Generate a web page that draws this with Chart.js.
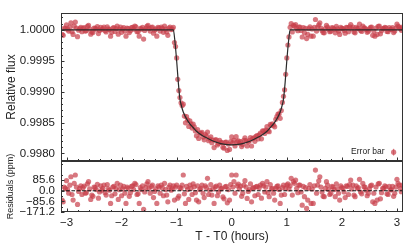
<!DOCTYPE html>
<html>
<head>
<meta charset="utf-8">
<script src="https://cdn.jsdelivr.net/npm/chart.js@4"></script>
<style>
  html, body { margin: 0; padding: 0; background: #fff; }
  #wrap { position: relative; width: 407px; height: 249px; }
  canvas { position: absolute; left: 0; top: 0; }
</style>
</head>
<body>
<div id="wrap">
  <canvas id="fluxChart" width="407" height="249"></canvas>
  <canvas id="residChart" width="407" height="249"></canvas>
</div>
<script>
// --- data (two interleaved sets of exposures) ---
const timesA = [
  -3.08, -3.04, -3.00, -2.96, -2.92, -2.88, -2.84, -2.80, -2.76, -2.72,
  -2.68, -2.64, -2.60, -2.56, -2.52, -2.48, -2.44, -2.40, -2.36, -2.32,
  -2.28, -2.24, -2.20, -2.16, -2.12, -2.08, -2.04, -2.00, -1.96, -1.92,
  -1.88, -1.84, -1.80, -1.76, -1.72, -1.68, -1.64, -1.60, -1.56, -1.52,
  -1.48, -1.44, -1.40, -1.36, -1.32, -1.28, -1.24, -1.20, -1.16, -1.12,
  -1.08, -1.04, -1.00, -0.96, -0.92, -0.88, -0.84, -0.80, -0.76, -0.72,
  -0.68, -0.64, -0.60, -0.56, -0.52, -0.48, -0.44, -0.40, -0.36, -0.32,
  -0.28, -0.24, -0.20, -0.16, -0.12, -0.08, -0.04, 0.00, 0.04, 0.08,
  0.12, 0.16, 0.20, 0.24, 0.28, 0.32, 0.36, 0.40, 0.44, 0.48,
  0.52, 0.56, 0.60, 0.64, 0.68, 0.72, 0.76, 0.80, 0.84, 0.88,
  0.92, 0.96, 1.00, 1.04, 1.08, 1.12, 1.16, 1.20, 1.24, 1.28,
  1.32, 1.36, 1.40, 1.44, 1.48, 1.52, 1.56, 1.60, 1.64, 1.68,
  1.72, 1.76, 1.80, 1.84, 1.88, 1.92, 1.96, 2.00, 2.04, 2.08,
  2.12, 2.16, 2.20, 2.24, 2.28, 2.32, 2.36, 2.40, 2.44, 2.48,
  2.52, 2.56, 2.60, 2.64, 2.68, 2.72, 2.76, 2.80, 2.84, 2.88,
  2.92, 2.96, 3.00, 3.04, 3.08
];

const fluxA = [
  0.999925, 1.000030, 1.000081, 0.999980, 1.000113, 0.999925, 1.000127, 0.999890, 1.000019, 0.999970,
  1.000038, 0.999985, 1.000073, 0.999930, 0.999955, 1.000025, 1.000052, 0.999990, 1.000005, 1.000046,
  0.999965, 1.000015, 0.999898, 1.000030, 0.999975, 1.000060, 1.000008, 0.999960, 1.000035, 0.999898,
  1.000020, 0.999985, 1.000040, 1.000060, 0.999970, 0.999898, 1.000010, 0.999850, 1.000025, 1.000073,
  0.999980, 1.000046, 0.999995, 0.999898, 1.000030, 1.000046, 0.999960, 1.000010, 0.999911, 1.000046,
  1.000015, 0.999795, 0.999546, 0.999017, 0.998820, 0.998797, 0.998495, 0.998543, 0.998526, 0.998410,
  0.998432, 0.998285, 0.998244, 0.998327, 0.998265, 0.998305, 0.998346, 0.998234, 0.998175, 0.998095,
  0.998221, 0.998162, 0.998178, 0.998102, 0.998180, 0.998048, 0.998065, 0.998267, 0.998213, 0.998272,
  0.998202, 0.998190, 0.998143, 0.998253, 0.998121, 0.998207, 0.998121, 0.998253, 0.998278, 0.998235,
  0.998331, 0.998367, 0.998323, 0.998433, 0.998352, 0.998455, 0.998460, 0.998552, 0.998637, 0.998568,
  0.998825, 0.999030, 0.999546, 0.999885, 1.000100, 1.000073, 1.000086, 0.999985, 1.000046, 0.999884,
  0.999952, 0.999858, 1.000020, 0.999898, 0.999898, 1.000167, 1.000046, 1.000113, 0.999990, 0.999952,
  1.000073, 1.000010, 0.999979, 1.000030, 0.999952, 1.000015, 0.999925, 1.000025, 0.999990, 1.000040,
  0.999970, 1.000086, 1.000046, 0.999952, 1.000020, 1.000092, 0.999975, 1.000032, 1.000005, 0.999979,
  1.000040, 0.999911, 0.999898, 0.999925, 1.000060, 0.999985, 1.000020, 1.000032, 0.999970, 1.000006,
  1.000035, 0.999980, 1.000092, 1.000046, 0.999992
];

// residuals in ppm
const residA = [
  -75, 30, 81, -20, 113, -75, 127, -110, 19, -30,
  38, -15, 73, -70, -45, 25, 52, -10, 5, 46,
  -35, 15, -102, 30, -25, 60, 8, -40, 35, -102,
  20, -15, 40, 60, -30, -102, 10, -150, 25, 73,
  -20, 46, -5, -102, 30, 46, -40, 10, -89, 46,
  15, -75, 46, -43, 20, 127, -102, 10, 46, -30,
  32, -75, -89, 20, -20, 40, 100, 6, -35, -102,
  38, -10, 15, -50, 32, -97, -75, 127, 73, 127,
  54, 38, -20, 81, -62, 10, -89, 25, 32, -30,
  46, 60, -10, 73, -48, 15, -20, 19, 40, -102,
  25, -30, 46, 15, 100, 73, 86, -15, 46, -116,
  -48, -142, 20, -102, -102, 167, 46, 113, -10, -48,
  73, 10, -21, 30, -48, 15, -75, 25, -10, 40,
  -30, 86, 46, -48, 20, 92, -25, 32, 5, -21,
  40, -89, -102, -75, 60, -15, 20, 32, -30, 6,
  35, -20, 92, 46, -8
];

const timesB = [
  -3.06, -3.02, -2.98, -2.94, -2.90, -2.86, -2.82, -2.78, -2.74, -2.70,
  -2.66, -2.62, -2.58, -2.54, -2.50, -2.46, -2.42, -2.38, -2.34, -2.30,
  -2.26, -2.22, -2.18, -2.14, -2.10, -2.06, -2.02, -1.98, -1.94, -1.90,
  -1.86, -1.82, -1.78, -1.74, -1.70, -1.66, -1.62, -1.58, -1.54, -1.50,
  -1.46, -1.42, -1.38, -1.34, -1.30, -1.26, -1.22, -1.18, -1.14, -1.10,
  -1.06, -1.02, -0.98, -0.94, -0.90, -0.86, -0.82, -0.78, -0.74, -0.70,
  -0.66, -0.62, -0.58, -0.54, -0.50, -0.46, -0.42, -0.38, -0.34, -0.30,
  -0.26, -0.22, -0.18, -0.14, -0.10, -0.06, -0.02, 0.02, 0.06, 0.10,
  0.14, 0.18, 0.22, 0.26, 0.30, 0.34, 0.38, 0.42, 0.46, 0.50,
  0.54, 0.58, 0.62, 0.66, 0.70, 0.74, 0.78, 0.82, 0.86, 0.90,
  0.94, 0.98, 1.02, 1.06, 1.10, 1.14, 1.18, 1.22, 1.26, 1.30,
  1.34, 1.38, 1.42, 1.46, 1.50, 1.54, 1.58, 1.62, 1.66, 1.70,
  1.74, 1.78, 1.82, 1.86, 1.90, 1.94, 1.98, 2.02, 2.06, 2.10,
  2.14, 2.18, 2.22, 2.26, 2.30, 2.34, 2.38, 2.42, 2.46, 2.50,
  2.54, 2.58, 2.62, 2.66, 2.70, 2.74, 2.78, 2.82, 2.86, 2.90,
  2.94, 2.98, 3.02, 3.06, 3.10
];

const fluxB = [
  0.999911, 1.000019, 1.000010, 1.000045, 0.999970, 1.000060, 1.000030, 0.999995, 1.000040, 1.000025,
  0.999980, 1.000055, 1.000015, 0.999965, 1.000030, 1.000010, 0.999940, 1.000040, 1.000020, 0.999985,
  1.000050, 1.000005, 0.999960, 1.000035, 1.000020, 0.999930, 1.000045, 1.000015, 0.999980, 1.000030,
  0.999955, 1.000035, 1.000010, 1.000050, 0.999975, 1.000025, 1.000040, 0.999990, 1.000055, 1.000020,
  1.000035, 0.999945, 1.000015, 1.000040, 0.999980, 1.000025, 1.000060, 0.999965, 1.000030, 1.000005,
  1.000040, 0.999730, 0.999200, 0.998905, 0.998775, 0.998605, 0.998595, 0.998436, 0.998480, 0.998475,
  0.998365, 0.998386, 0.998330, 0.998341, 0.998220, 0.998280, 0.998207, 0.998269, 0.998218, 0.998220,
  0.998137, 0.998212, 0.998177, 0.998085, 0.998182, 0.998152, 0.998190, 0.998170, 0.998122, 0.998187,
  0.998165, 0.998112, 0.998212, 0.998207, 0.998185, 0.998258, 0.998239, 0.998197, 0.998290, 0.998300,
  0.998236, 0.998360, 0.998376, 0.998365, 0.998470, 0.998480, 0.998431, 0.998595, 0.998640, 0.998695,
  0.998925, 0.999280, 0.999755, 1.000040, 0.999965, 1.000060, 1.000020, 1.000045, 0.999990, 1.000035,
  1.000025, 0.999925, 1.000050, 1.000015, 1.000040, 0.999980, 1.000080, 1.000030, 0.999955, 1.000020,
  1.000045, 0.999970, 1.000035, 1.000010, 1.000055, 0.999980, 1.000040, 1.000020, 0.999945, 1.000035,
  1.000050, 1.000015, 0.999965, 1.000040, 1.000025, 0.999990, 1.000060, 1.000030, 0.999960, 1.000015,
  1.000045, 0.999980, 1.000030, 1.000055, 0.999935, 1.000020, 1.000040, 0.999975, 1.000035, 1.000010,
  0.999955, 1.000030, 1.000060, 1.000020, 1.000045
];

const residB = [
  -89, 19, 10, 45, -30, 60, 30, -5, 40, 25,
  -20, 55, 15, -35, 30, 10, -60, 40, 20, -15,
  50, 5, -40, 35, 20, -70, 45, 15, -20, 30,
  -45, 35, 10, 50, -25, 25, 40, -10, 55, 20,
  35, -55, 15, 40, -20, 25, 60, -35, 30, 5,
  40, 30, -60, 25, 45, -25, 35, -70, 20, 55,
  -15, 40, 10, 45, -55, 25, -30, 50, 15, 30,
  -40, 45, 20, -65, 35, 10, 50, 30, -20, 40,
  15, -45, 45, 30, -5, 55, 20, -40, 35, 25,
  -60, 40, 30, -15, 50, 20, -75, 35, 10, -35,
  45, 20, 55, 40, -35, 60, 20, 45, -10, 35,
  25, -75, 50, 15, 40, -20, 80, 30, -45, 20,
  45, -30, 35, 10, 55, -20, 40, 20, -55, 35,
  50, 15, -35, 40, 25, -10, 60, 30, -40, 15,
  45, -20, 30, 55, -65, 20, 40, -25, 35, 10,
  -45, 30, 60, 20, 45
];

// transit model curve
const modelTimes = [
  -3.2, -1.06, -1.03, -1.00, -0.97, -0.94, -0.91, -0.88, -0.82, -0.76, -0.70, -0.64,
  -0.55, -0.45, -0.36, -0.27, -0.15, 0, 0.15, 0.27, 0.36, 0.45, 0.55,
  0.64, 0.70, 0.76, 0.82, 0.88, 0.91, 0.94, 0.97, 1.00, 1.03, 1.06, 3.2
];
const modelFlux = [
  1, 1, 0.9998, 0.9995, 0.99915, 0.99888, 0.99876, 0.99867, 0.99856, 0.99848, 0.99842, 0.99836,
  0.99830, 0.99825, 0.99821, 0.99818, 0.99815, 0.99814, 0.99815, 0.99818, 0.99821, 0.99825, 0.99830,
  0.99836, 0.99842, 0.99848, 0.99856, 0.99867, 0.99876, 0.99888, 0.99915, 0.9995, 0.9998, 1, 1
];

// typical error bar sample
const errSampleT = [2.94];
const errSampleFlux = [0.99802];
const errSampleSigma = [0.000055];

// axis ticks
const xTicks = [-3, -2, -1, 0, 1, 2, 3];
const fluxTicks = [0.9980, 0.9985, 0.9990, 0.9995, 1.0000];
const residTicks = [-171.2, -85.6, 0, 85.6];
const zeroLineT = [-3.2, 3.2];
const zeroLineR = [0, 0];

// --- helpers ---
const FONT = '"Liberation Sans", Arial, sans-serif';
const DOT = 'rgba(200, 62, 74, 0.7)';
const INK = '#333';

Chart.defaults.font.family = FONT;
Chart.defaults.color = '#222';

const minus = s => String(s).replace('-', '\u2212');
const toXY = (xs, ys) => xs.map((x, i) => ({ x: x, y: ys[i] }));

function range(from, to, step) {
  const out = [];
  for (let v = from; v <= to + step / 2; v += step) out.push(+v.toFixed(6));
  return out;
}

const X_MIN = -3.1, X_MAX = 3.11;
const xMinor = range(-3.0, 3.0, 0.2);

// frame + inward ticks (matplotlib look)
const axesFrame = {
  id: 'axesFrame',
  afterDatasetsDraw(chart, args, o) {
    const { ctx, chartArea: a, scales } = chart;
    ctx.save();
    ctx.strokeStyle = INK;
    ctx.lineWidth = 1;
    ctx.beginPath();
    const xt = (v, len) => {
      const p = Math.round(scales.x.getPixelForValue(v)) + 0.5;
      ctx.moveTo(p, a.bottom); ctx.lineTo(p, a.bottom - len);
    };
    const yt = (v, len) => {
      const p = Math.round(scales.y.getPixelForValue(v)) + 0.5;
      if (p < a.top || p > a.bottom + 1) return;
      ctx.moveTo(a.left, p); ctx.lineTo(a.left + len, p);
    };
    xMinor.forEach(v => xt(v, 2));
    xTicks.forEach(v => xt(v, 3.5));
    o.yMinor.forEach(v => yt(v, 2));
    o.yMajor.forEach(v => yt(v, 3.5));
    ctx.stroke();
    ctx.strokeRect(Math.round(a.left) + 0.5, Math.round(a.top) + 0.5,
      Math.round(a.width) - 1, Math.round(a.height) - 1);
    ctx.restore();
  }
};

// error bar sample + label
const errorBarKey = {
  id: 'errorBarKey',
  afterDatasetsDraw(chart) {
    const { ctx, scales } = chart;
    ctx.save();
    errSampleT.forEach((t, i) => {
      const px = scales.x.getPixelForValue(t);
      const py = scales.y.getPixelForValue(errSampleFlux[i]);
      const top = scales.y.getPixelForValue(errSampleFlux[i] + errSampleSigma[i]);
      const bot = scales.y.getPixelForValue(errSampleFlux[i] - errSampleSigma[i]);
      ctx.strokeStyle = DOT;
      ctx.lineWidth = 1;
      ctx.beginPath();
      ctx.moveTo(px, top); ctx.lineTo(px, bot);
      ctx.stroke();
      ctx.fillStyle = '#222';
      ctx.font = '8.5px ' + FONT;
      ctx.textAlign = 'right';
      ctx.textBaseline = 'alphabetic';
      ctx.fillText('Error bar', px - 9, py + 1.5);
    });
    ctx.restore();
  }
};

const pointStyle = {
  showLine: false,
  pointRadius: 2.6,
  pointHoverRadius: 2.6,
  pointBackgroundColor: DOT,
  pointBorderWidth: 0,
  clip: 0
};

const hiddenGrid = { display: false, drawTicks: false };
const noBorder = { display: false };

// --- top panel: relative flux ---
new Chart(document.getElementById('fluxChart'), {
  type: 'scatter',
  data: {
    datasets: [
      {
        data: toXY(modelTimes, modelFlux),
        showLine: true,
        borderColor: '#2a2a2a',
        borderWidth: 1.2,
        pointRadius: 0,
        cubicInterpolationMode: 'monotone',
        clip: 0
      },
      Object.assign({ data: toXY(timesA, fluxA) }, pointStyle),
      Object.assign({ data: toXY(timesB, fluxB) }, pointStyle),
      Object.assign({ data: toXY(errSampleT, errSampleFlux) }, pointStyle)
    ]
  },
  options: {
    responsive: false,
    devicePixelRatio: 1,
    animation: false,
    events: [],
    layout: { padding: { top: 4, right: 4, bottom: 88, left: 0 } },
    plugins: {
      legend: { display: false },
      tooltip: { enabled: false },
      axesFrame: {
        yMajor: fluxTicks,
        yMinor: range(0.9979, 1.0002, 0.0001)
      }
    },
    scales: {
      x: {
        type: 'linear', min: X_MIN, max: X_MAX, display: false
      },
      y: {
        type: 'linear', min: 0.997878, max: 1.000274,
        grid: hiddenGrid, border: noBorder,
        afterFit: s => { s.width = 61; },
        afterBuildTicks: s => { s.ticks = fluxTicks.map(v => ({ value: v })); },
        ticks: {
          autoSkip: false, padding: 6,
          font: { size: 11.5 },
          callback: v => v.toFixed(4)
        },
        title: {
          display: true, text: 'Relative flux',
          font: { size: 12 }, padding: { top: 4, bottom: 0 }
        }
      }
    }
  },
  plugins: [axesFrame, errorBarKey]
});

// --- bottom panel: residuals ---
new Chart(document.getElementById('residChart'), {
  type: 'scatter',
  data: {
    datasets: [
      {
        data: toXY(zeroLineT, zeroLineR),
        showLine: true,
        borderColor: '#111',
        borderWidth: 1,
        borderDash: [3.7, 1.6],
        pointRadius: 0,
        clip: 0
      },
      Object.assign({ data: toXY(timesA, residA) }, pointStyle),
      Object.assign({ data: toXY(timesB, residB) }, pointStyle)
    ]
  },
  options: {
    responsive: false,
    devicePixelRatio: 1,
    animation: false,
    events: [],
    layout: { padding: { top: 161, right: 4, bottom: 0, left: 0 } },
    plugins: {
      legend: { display: false },
      tooltip: { enabled: false },
      axesFrame: {
        yMajor: residTicks,
        yMinor: range(-128.4, 214, 85.6)
      }
    },
    scales: {
      x: {
        type: 'linear', min: X_MIN, max: X_MAX,
        grid: hiddenGrid, border: noBorder,
        afterFit: s => { s.height = 37; },
        afterBuildTicks: s => { s.ticks = xTicks.map(v => ({ value: v })); },
        ticks: {
          autoSkip: false, padding: 4, maxRotation: 0,
          font: { size: 11.5 },
          callback: v => minus(v)
        },
        title: {
          display: true, text: 'T - T0 (hours)',
          font: { size: 12 }, padding: { top: 0, bottom: 5 }
        }
      },
      y: {
        type: 'linear', min: -171.2, max: 240,
        grid: hiddenGrid, border: noBorder,
        afterFit: s => { s.width = 61; },
        afterBuildTicks: s => { s.ticks = residTicks.map(v => ({ value: v })); },
        ticks: {
          autoSkip: false, padding: 6,
          font: { size: 11.5 },
          callback: v => minus(v.toFixed(1))
        },
        title: {
          display: true, text: 'Residuals (ppm)',
          font: { size: 9 }, padding: { top: 5.5, bottom: 0 }
        }
      }
    }
  },
  plugins: [axesFrame]
});
</script>
</body>
</html>
